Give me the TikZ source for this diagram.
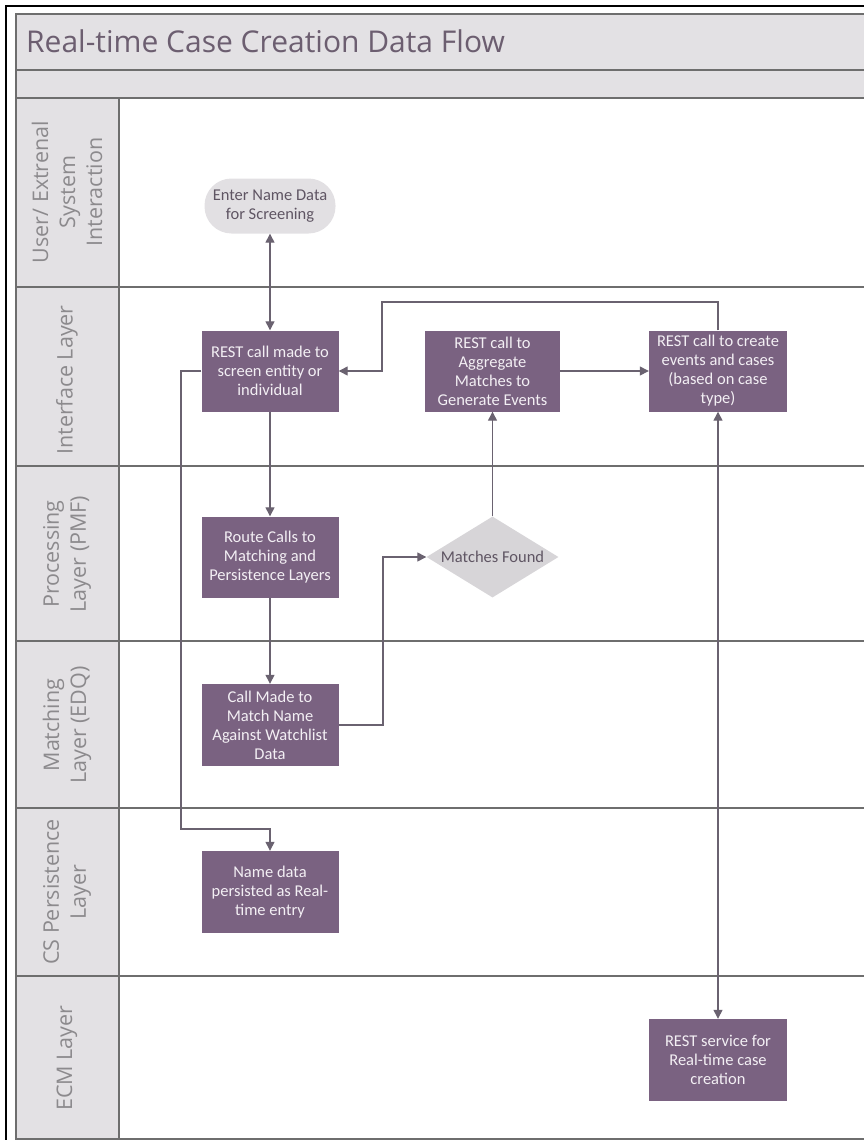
\documentclass[tikz,border=0pt]{standalone}
\usepackage{fontspec}
\setmainfont{Open Sans}
\newfontfamily\boxfont{Carlito}
\usetikzlibrary{arrows.meta,shapes.geometric}
\definecolor{hdrfill}{HTML}{E3E1E4}
\definecolor{frameln}{HTML}{6E6E6E}
\definecolor{lanetxt}{HTML}{8C8A8D}
\definecolor{titletxt}{HTML}{6C5E70}
\definecolor{boxfill}{HTML}{7A6281}
\definecolor{boxtxt}{HTML}{F3EFF4}
\definecolor{pillfill}{HTML}{E2E0E3}
\definecolor{pilltxt}{HTML}{5F5563}
\definecolor{conn}{HTML}{6A6270}
\begin{document}
\begin{tikzpicture}[x=1pt,y=-1pt,
  laneline/.style={draw=frameln, line width=1.5pt},
  lanelbl/.style={rotate=90, text=lanetxt, font=\fontsize{21.5}{27}\selectfont, align=center, inner sep=0pt},
  procbox/.style={rectangle, fill=boxfill, text=boxtxt, minimum width=137pt, minimum height=81pt, inner sep=0pt, align=center, font=\boxfont\fontsize{16.5}{19}\selectfont},
  pillbox/.style={rectangle, rounded corners=27pt, fill=pillfill, text=pilltxt, minimum width=131pt, minimum height=55pt, inner sep=0pt, align=center, font=\boxfont\fontsize{16.5}{19}\selectfont},
  decbox/.style={diamond, aspect=1.63, fill=pillfill!95!black, text=pilltxt, minimum width=132pt, minimum height=81pt, inner sep=0pt, align=center, font=\boxfont\fontsize{16.5}{19}\selectfont},
  flow/.style={draw=conn, line width=1.3pt, -{Triangle[length=9pt,width=9pt]}},
  flowboth/.style={draw=conn, line width=1.3pt, {Triangle[length=9pt,width=9pt]}-{Triangle[length=9pt,width=9pt]}},
]
\useasboundingbox (0,0) rectangle (864,1140);
% frame and lanes
\fill[hdrfill] (16,14) rectangle (880,98);
\fill[hdrfill] (16,98) rectangle (119,1139);
\draw[laneline] (16,14) rectangle (880,1139);
\foreach \yy in {70,98,287,466,641,808,976} \draw[laneline] (16,\yy) -- (880,\yy);
\draw[laneline] (119,98) -- (119,1139);
\draw[line width=2.5pt] (6,1150) -- (6,6) -- (870,6);
% title
\node[anchor=west, text=titletxt, font=\fontsize{30}{33}\selectfont, inner sep=0pt] (title) at (26,41) {Real-time Case Creation Data Flow};
% lane labels
\node[lanelbl] (l1) at (67,192) {User/ Extrenal\\System\\Interaction};
\node[lanelbl] (l2) at (67,380) {Interface Layer};
\node[lanelbl] (l3) at (67,554) {Processing\\Layer (PMF)};
\node[lanelbl] (l4) at (67,725) {Matching\\Layer (EDQ)};
\node[lanelbl] (l5) at (67,892) {CS Persistence\\Layer};
\node[lanelbl] (l6) at (67,1058) {ECM Layer};
% nodes
\node[pillbox] (pill) at (270,206) {Enter Name Data\\for Screening};
\node[procbox] (rest) at (270,371) {REST call made to\\screen entity or\\individual};
\node[procbox, minimum width=135pt] (agg) at (492.5,371) {REST call to\\Aggregate\\Matches to\\Generate Events};
\node[procbox, minimum width=138pt] (create) at (718,371) {REST call to create\\events and cases\\(based on case\\type)};
\node[procbox] (route) at (270,557) {Route Calls to\\Matching and\\Persistence Layers};
\node[decbox] (dia) at (492.5,557) {Matches Found};
\node[procbox, minimum height=82pt] (call) at (270,725) {Call Made to\\Match Name\\Against Watchlist\\Data};
\node[procbox, minimum height=82pt] (name) at (270,892) {Name data\\persisted as Real-\\time entry};
\node[procbox, minimum width=138pt, minimum height=82pt] (ecm) at (718,1060) {REST service for\\Real-time case\\creation};
% connectors
\coordinate (d1) at (181,829);
\coordinate (e1) at (383,557);
\coordinate (h1) at (382,302);
\draw[flowboth] (pill.south) -- (rest.north);
\draw[flow] (rest.south) -- (route.north);
\draw[flow] (route.south) -- (call.north);
\draw[flow] (rest.west) -| (d1) -| (name.north);
\draw[flow] (call.east) -| (e1) -- (dia.west);
\draw[flow] (dia.north) -- (agg.south);
\draw[flow] (agg.east) -- (create.west);
\draw[flow] (create.north) |- (h1) |- (rest.east);
\draw[flowboth] (create.south) -- (ecm.north);
\end{tikzpicture}
\end{document}
